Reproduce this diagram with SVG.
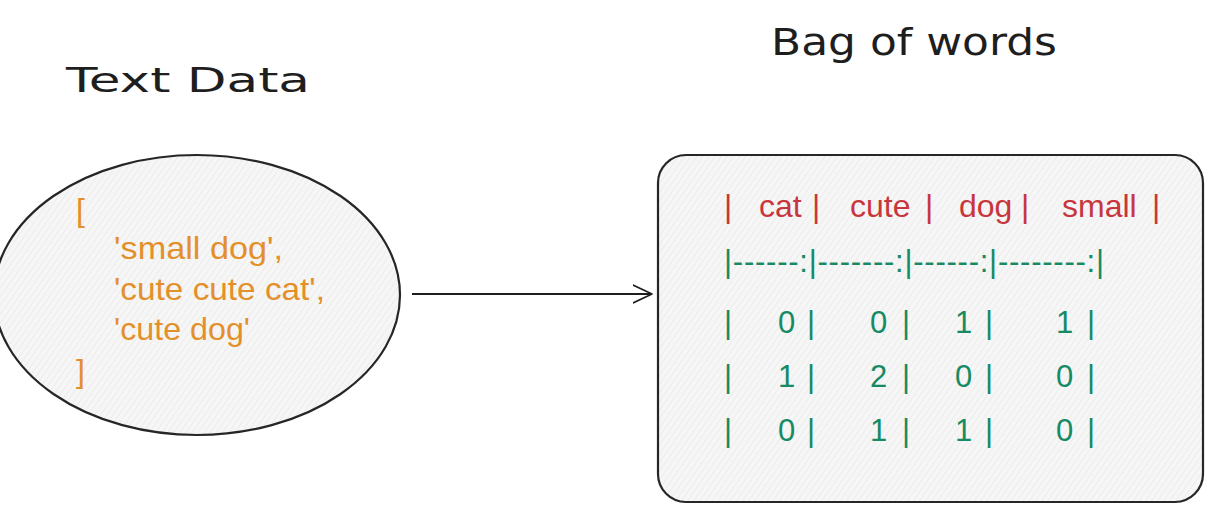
<svg xmlns="http://www.w3.org/2000/svg" width="1210" height="510" viewBox="0 0 1210 510">
<defs>
<pattern id="hatch" patternUnits="userSpaceOnUse" width="5" height="5" patternTransform="rotate(35)">
<rect width="5" height="5" fill="#f6f6f6"/>
<line x1="0" y1="0" x2="0" y2="5" stroke="#e2e2e2" stroke-width="1"/>
</pattern>
<marker id="arrow" viewBox="0 0 20 20" refX="19" refY="10" markerWidth="20" markerHeight="20" markerUnits="userSpaceOnUse" orient="auto">
<path d="M0,1 L19,10 L0,19" fill="none" stroke="#1e1e1e" stroke-width="1.6" stroke-linecap="round" stroke-linejoin="round"/>
</marker>
</defs>
<style>
.title{font-family:"DejaVu Sans","Liberation Sans",sans-serif;fill:#1e1e1e}
.list{font-family:"Liberation Sans",Arial,sans-serif;font-size:32px;fill:#e3902a}
.hd{font-family:"Liberation Sans",Arial,sans-serif;font-size:32px;fill:#c8363d}
.tb{font-family:"Liberation Sans",Arial,sans-serif;font-size:31px;fill:#168a63}
.shape{fill:url(#hatch);stroke:#262626;stroke-width:2.2}
</style>
<rect width="1210" height="510" fill="#ffffff"/>
<g id="title-text-data">
<text class="title" x="66" y="92" font-size="34" textLength="244" lengthAdjust="spacingAndGlyphs">Text Data</text>
</g>
<g id="title-bag-of-words">
<text class="title" x="771" y="55" font-size="38" textLength="286" lengthAdjust="spacingAndGlyphs">Bag of words</text>
</g>
<g id="node-text-data">
<ellipse class="shape" cx="197" cy="295" rx="203" ry="140"/>
<text class="list" x="76" y="221">[</text>
<text class="list" x="114" y="259" textLength="169" lengthAdjust="spacingAndGlyphs">'small dog',</text>
<text class="list" x="114" y="300" textLength="211" lengthAdjust="spacingAndGlyphs">'cute cute cat',</text>
<text class="list" x="114" y="340" textLength="136" lengthAdjust="spacingAndGlyphs">'cute dog'</text>
<text class="list" x="76" y="382">]</text>
</g>
<g id="node-bag-of-words">
<rect class="shape" x="658" y="155" width="545" height="347" rx="28" ry="28"/>
<g class="hd">
<text x="724" y="217">|</text>
<text x="759" y="217">cat</text>
<text x="812" y="217">|</text>
<text x="850" y="217">cute</text>
<text x="925" y="217">|</text>
<text x="959" y="217">dog</text>
<text x="1021" y="217">|</text>
<text x="1062" y="217">small</text>
<text x="1152" y="217">|</text>
</g>
<g class="tb">
<text x="724" y="272" textLength="380" lengthAdjust="spacing">|------:|-------:|------:|--------:|</text>
<text x="724" y="333">|</text><text x="778" y="333">0</text><text x="807" y="333">|</text><text x="870" y="333">0</text><text x="902" y="333">|</text><text x="955" y="333">1</text><text x="985" y="333">|</text><text x="1056" y="333">1</text><text x="1087" y="333">|</text>
<text x="724" y="387">|</text><text x="778" y="387">1</text><text x="807" y="387">|</text><text x="870" y="387">2</text><text x="902" y="387">|</text><text x="955" y="387">0</text><text x="985" y="387">|</text><text x="1056" y="387">0</text><text x="1087" y="387">|</text>
<text x="724" y="441">|</text><text x="778" y="441">0</text><text x="807" y="441">|</text><text x="870" y="441">1</text><text x="902" y="441">|</text><text x="955" y="441">1</text><text x="985" y="441">|</text><text x="1056" y="441">0</text><text x="1087" y="441">|</text>
</g>
</g>
<g id="connectors">
<line x1="412" y1="294" x2="652" y2="294" stroke="#1e1e1e" stroke-width="1.8" marker-end="url(#arrow)"/>
</g>
</svg>
